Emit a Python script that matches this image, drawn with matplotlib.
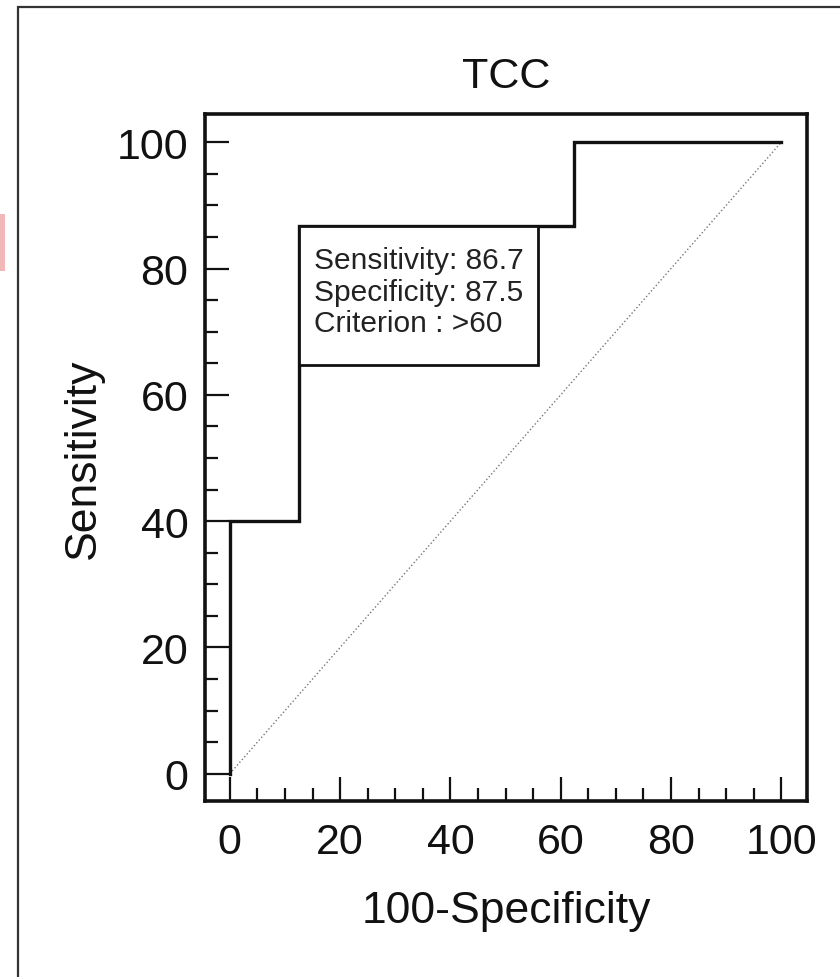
import matplotlib
matplotlib.use('Agg')
from matplotlib import pyplot as plt
from matplotlib.patches import Rectangle

plt.rcParams['font.family'] = ['Liberation Sans', 'DejaVu Sans']

# ROC points (100-specificity, sensitivity)
fpr = [0, 0, 12.5, 12.5, 62.5, 62.5, 100]
tpr = [0, 40, 40, 86.7, 86.7, 100, 100]
cut_x, cut_y = 12.5, 86.7
box_lines = ['Sensitivity: 86.7', 'Specificity: 87.5', 'Criterion : >60']
ticks = [0, 20, 40, 60, 80, 100]

fig = plt.figure(figsize=(8.4, 9.78), dpi=100)
ax = fig.add_axes([0.244, 0.180, 0.717, 0.702])

# outer frame of the scanned figure
fig.patches.append(Rectangle((18 / 840, -0.05), 1.1, 1.05 - 8 / 978,
                             transform=fig.transFigure, fill=False,
                             edgecolor='#333333', lw=1.6))
fig.patches.append(Rectangle((0, 1 - 272 / 978), 5 / 840, 57 / 978,
                             transform=fig.transFigure, color='#f2b8b8', lw=0))

ax.plot([0, 100], [0, 100], color='#777777', lw=1, ls=':')
ax.plot(fpr, tpr, color='#111111', lw=2.4, solid_joinstyle='miter')

bx0, by0 = cut_x, 64.7
ax.add_patch(Rectangle((bx0, by0), 55.8 - bx0, cut_y - by0, facecolor='white',
                       edgecolor='#111111', lw=2.0, zorder=3))
ax.text(15.3, 83.6, '\n'.join(box_lines), fontsize=21.5, va='top', ha='left',
        linespacing=1.17, color='#222222', zorder=4)

ax.set_xlim(-4.5, 104.7)
ax.set_ylim(-4.3, 104.4)
ax.set_xticks(ticks)
ax.set_yticks(ticks)
ax.set_xticks(range(0, 101, 5), minor=True)
ax.set_yticks(range(0, 101, 5), minor=True)
ax.tick_params(which='major', direction='in', length=17, width=1.6,
               labelsize=31, color='#111111', labelcolor='#111111')
ax.tick_params(axis='x', which='major', pad=15)
ax.tick_params(axis='y', which='major', pad=12)
ax.tick_params(which='minor', direction='in', length=9.5, width=1.6,
               color='#111111')
for s in ax.spines.values():
    s.set_linewidth(2.6)
    s.set_color('#111111')

ax.set_title('TCC', fontsize=31, pad=20, color='#111111')
ax.set_xlabel('100-Specificity', fontsize=32, labelpad=20, color='#111111')
ax.set_ylabel('Sensitivity', fontsize=32, labelpad=9, color='#111111')

fig.savefig('out.png', dpi=100)
